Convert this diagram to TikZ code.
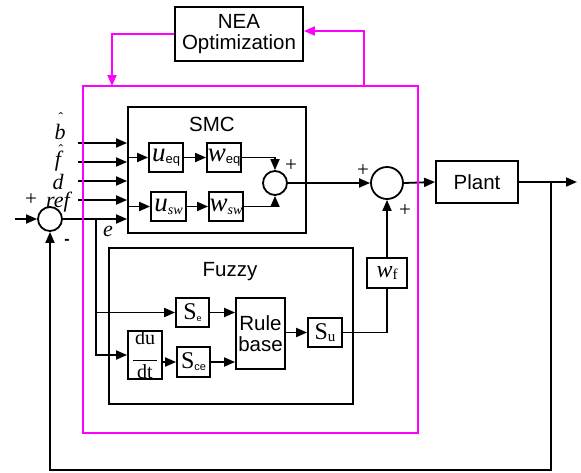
\documentclass[tikz,border=0pt]{standalone}
\usepackage{fontspec}
\newfontfamily\arial{Liberation Sans}
\newfontfamily\tnr{Liberation Serif}
\usetikzlibrary{arrows.meta,calc}
\definecolor{mgt}{RGB}{255,0,255}
\begin{document}
\begin{tikzpicture}[x=1pt,y=-1pt,
 ln/.style={line width=1.8pt},
 arr/.style={ln,-{Triangle[length=11pt,width=9pt]}},
 mag/.style={draw=mgt,line width=1.8pt},
 marr/.style={mag,-{Triangle[length=11pt,width=9pt]}},
 blk/.style={draw,line width=1.8pt,inner sep=0pt,rectangle},
 sumc/.style={draw,circle,line width=1.8pt,inner sep=0pt},
 sf/.style={font=\arial\fontsize{20.5}{23}\selectfont},
 pm/.style={font=\tnr\fontsize{21}{21}\selectfont,inner sep=0pt},
 mlab/.style={font=\tnr\itshape\fontsize{22}{22}\selectfont,inner sep=0pt},
 hatl/.style={font=\tnr\fontsize{14}{14}\selectfont,inner sep=0pt}]
\useasboundingbox (0,0) rectangle (581,472);
\fill[white] (0,0) rectangle (581,472);

% main blocks
\node[blk,minimum width=128pt,minimum height=54pt,sf,align=center] (nea) at (239,34) {NEA\\[-2pt]Optimization};
\node[blk,minimum width=178pt,minimum height=126pt] (smc) at (217,170) {};
\node[sf] (smcl) at (212,124) {SMC};
\node[blk,minimum width=244pt,minimum height=156pt] (fz) at (231,326) {};
\node[sf] (fzl) at (230,272) {Fuzzy};
\node[blk,minimum width=82pt,minimum height=42pt,sf] (plant) at (477,182) {Plant};

% SMC inner
\node[blk,minimum width=34pt,minimum height=29pt] (ueq) at (166,157.5) {{\tnr\itshape\fontsize{27}{27}\selectfont u}\raisebox{-2pt}{\arial\fontsize{13}{13}\selectfont eq}};
\node[blk,minimum width=34pt,minimum height=29pt] (weq) at (224,157.5) {{\tnr\itshape\fontsize{27}{27}\selectfont w}\raisebox{-2pt}{\arial\fontsize{13}{13}\selectfont eq}};
\node[blk,minimum width=35pt,minimum height=29pt] (usw) at (168.5,206.5) {{\tnr\itshape\fontsize{27}{27}\selectfont u}\raisebox{-3pt}{\tnr\itshape\fontsize{14}{14}\selectfont sw}};
\node[blk,minimum width=34pt,minimum height=29pt] (wsw) at (226,206.5) {{\tnr\itshape\fontsize{27}{27}\selectfont w}\raisebox{-3pt}{\tnr\itshape\fontsize{14}{14}\selectfont sw}};
\node[sumc,minimum size=24pt] (s1) at (275,183) {};
\node[sumc,minimum size=32pt] (s2) at (387,183) {};
\node[sumc,minimum size=24pt] (s0) at (50,219) {};

% Fuzzy inner
\node[blk,minimum width=33pt,minimum height=29pt] (se) at (192.5,312.5) {{\tnr\fontsize{24}{24}\selectfont S}\raisebox{-2pt}{\arial\fontsize{9}{9}\selectfont e}};
\node[blk,minimum width=49pt,minimum height=71pt,sf,align=center] (rule) at (260.5,333.5) {Rule\\[-2pt]base};
\node[blk,minimum width=34pt,minimum height=44pt,align=center,font=\tnr\fontsize{20}{20}\selectfont] (ddt) at (145,355) {du\\[-4pt]\rule{24pt}{1.2pt}\\[-2pt]dt};
\node[blk,minimum width=33pt,minimum height=30pt] (sce) at (193.5,362) {{\tnr\fontsize{24}{24}\selectfont S}\raisebox{-2pt}{\arial\fontsize{11}{11}\selectfont ce}};
\node[blk,minimum width=34pt,minimum height=29pt] (su) at (325,332.5) {{\tnr\fontsize{24}{24}\selectfont S}\raisebox{-2pt}{\tnr\fontsize{15}{15}\selectfont u}};
\node[blk,minimum width=40pt,minimum height=30pt] (wf) at (387,273) {{\tnr\itshape\fontsize{24}{24}\selectfont w}\raisebox{-2pt}{\tnr\fontsize{15}{15}\selectfont f}};

% labels
\node[pm] (p1) at (291,166) {+};
\node[pm] (p2) at (363,171) {+};
\node[pm] (p3) at (405,211) {+};
\node[pm] (p0) at (31,200) {+};
\node[font=\arial\bfseries\fontsize{16}{16}\selectfont,inner sep=0pt] (m0) at (67,242) {-};
\node[mlab] (le) at (108,231) {e};
\node[mlab] (lb) at (60,132) {b};
\node[hatl] (lbh) at (61,118) {\symbol{"02C6}};
\node[mlab] (lf) at (58,161) {f};
\node[hatl] (lfh) at (61,150) {\symbol{"02C6}};
\node[mlab] (ld) at (58,182) {d};
\node[mlab] (lr) at (58,202) {ref};

% coordinates
\coordinate (i1) at (78,143);
\coordinate (i2) at (78,162);
\coordinate (i3) at (78,181);
\coordinate (i4) at (78,200);
\coordinate (in) at (15,219);
\coordinate (eb) at (96,219);
\coordinate (fb) at (551,182);
\coordinate (fbb) at (551,470);
\coordinate (out) at (577,182);
\coordinate (mtl) at (112,86);
\coordinate (mtr) at (364,86);

% connectors
\foreach \c in {i1,i2,i3,i4} \draw[arr] (\c) -- (\c -| smc.west);
\draw[arr] (in) -- (s0.west);
\draw[arr] (s0.east) -- (s0.east -| smc.west);
\draw[arr] (smc.west |- ueq.west) -- (ueq.west);
\draw[arr] (smc.west |- usw.west) -- (usw.west);
\draw[arr] (ueq.east) -- (weq.west);
\draw[arr] (usw.east) -- (wsw.west);
\draw[arr] (weq.east) -| (s1.north);
\draw[arr] (wsw.east) -| (s1.south);
\draw[arr] (s1.east) -- (s2.west);
\draw[arr] (s2.east) -- (plant.west);
\draw[arr] (plant.east) -- (out);
\draw[arr] (fb) -- (fbb) -| (s0.south);
\draw[arr] (eb) |- (ddt.west);
\draw[arr] (eb |- se.west) -- (se.west);
\draw[arr] (se.east) -- (se.east -| rule.west);
\draw[arr] (ddt.east |- sce.west) -- (sce.west);
\draw[arr] (sce.east) -- (sce.east -| rule.west);
\draw[arr] (rule.east |- su.west) -- (su.west);
\draw[ln] (su.east) -| (wf.south);
\draw[arr] (wf.north) -- (s2.south);

% magenta
\node[draw=mgt,line width=1.8pt,minimum width=335pt,minimum height=347pt,inner sep=0pt] (mbox) at (250.5,259.5) {};
\draw[marr] (nea.west) -| (mtl);
\draw[marr] (mtr) |- ([yshift=3pt]nea.east);
\end{tikzpicture}
\end{document}
